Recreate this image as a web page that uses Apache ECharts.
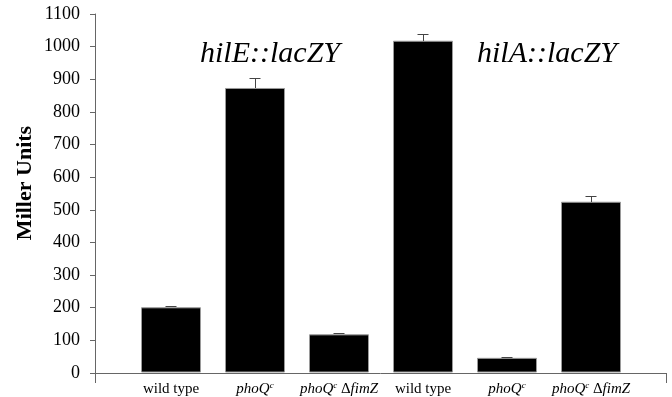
<!DOCTYPE html>
<html>
<head>
<meta charset="utf-8">
<script src="https://cdn.jsdelivr.net/npm/echarts@6/dist/echarts.min.js"></script>
<style>html,body{margin:0;padding:0;background:#fff}#c{width:672px;height:397px}</style>
</head>
<body>
<div id="c"></div>
<script>
var categories = ['wild type', 'phoQc', 'phoQc fimZ', 'wild type', 'phoQc', 'phoQc fimZ'];
var categoryLabels = [
  '{n|wild type}',
  '{i|phoQ}{s|c}',
  '{i|phoQ}{s|c}{n| Δ}{i|fimZ}',
  '{n|wild type}',
  '{i|phoQ}{s|c}',
  '{i|phoQ}{s|c}{n| Δ}{i|fimZ}'
];
var values = [200, 873, 117, 1018, 45, 524];
var errors = [5, 30, 5, 20, 4, 18];
var yTicks = [0, 100, 200, 300, 400, 500, 600, 700, 800, 900, 1000, 1100];
var groupLabels = ['hilE::lacZY', 'hilA::lacZY'];

var serif = '"Liberation Serif", "DejaVu Serif", serif';
var chart = echarts.init(document.getElementById('c'));
var errData = values.map(function (v, i) { return [i, v, v + errors[i]]; });

chart.setOption({
  animation: false,
  backgroundColor: '#fff',
  grid: [
    { left: 95, right: 6, top: 14, bottom: 24 },
    { left: 129, width: 504, top: 14, bottom: 24 }
  ],
  xAxis: [
    {
      type: 'value', gridIndex: 0, min: 0, max: 1, interval: 1,
      axisLine: { show: true, lineStyle: { color: '#666', width: 1 } },
      axisTick: { show: true, length: 10, lineStyle: { color: '#666' } },
      axisLabel: { show: false },
      splitLine: { show: false }
    },
    {
      type: 'category', gridIndex: 1, data: categories,
      axisLine: { show: false },
      axisTick: { show: false },
      axisLabel: {
        margin: 9,
        interval: 0,
        formatter: function (v, i) { return categoryLabels[i]; },
        rich: {
          n: { fontFamily: serif, fontSize: 15, color: '#000', lineHeight: 16 },
          i: { fontFamily: serif, fontSize: 15, fontStyle: 'italic', color: '#000', lineHeight: 16 },
          s: { fontFamily: serif, fontSize: 9, fontStyle: 'italic', color: '#000', lineHeight: 16, verticalAlign: 'top', padding: [0, 0, 6, 0] }
        }
      }
    }
  ],
  yAxis: [
    {
      type: 'value', gridIndex: 0, min: yTicks[0], max: yTicks[yTicks.length - 1], interval: 100,
      axisLine: { show: true, lineStyle: { color: '#666', width: 1 } },
      axisTick: { show: true, length: 5, lineStyle: { color: '#666' } },
      axisLabel: { margin: 15, fontFamily: serif, fontSize: 18, color: '#000', formatter: function (v) { return String(v); } },
      splitLine: { show: false }
    },
    {
      type: 'value', gridIndex: 1, min: yTicks[0], max: yTicks[yTicks.length - 1], show: false,
      splitLine: { show: false }
    }
  ],
  graphic: [
    {
      type: 'text', left: 200, top: 39,
      style: { text: groupLabels[0], font: 'italic 30px ' + serif, fill: '#000' }
    },
    {
      type: 'text', left: 477, top: 39,
      style: { text: groupLabels[1], font: 'italic 30px ' + serif, fill: '#000' }
    },
    {
      type: 'text', x: 25, y: 183, rotation: Math.PI / 2,
      style: { text: 'Miller Units', font: 'bold 22px ' + serif, fill: '#000', align: 'center', verticalAlign: 'middle' }
    }
  ],
  series: [
    {
      type: 'bar', xAxisIndex: 1, yAxisIndex: 1, data: values, barWidth: 60,
      itemStyle: { color: '#000', borderColor: '#9a9a9a', borderWidth: 1 },
      z: 2
    },
    {
      type: 'custom', xAxisIndex: 1, yAxisIndex: 1, data: errData, z: 3,
      renderItem: function (params, api) {
        var base = api.coord([api.value(0), api.value(1)]);
        var top = api.coord([api.value(0), api.value(2)]);
        var x = Math.round(base[0]) + 0.5;
        var y0 = Math.round(base[1]);
        var y1 = Math.round(top[1]) + 0.5;
        var st = { stroke: '#444', lineWidth: 1 };
        return {
          type: 'group',
          children: [
            { type: 'line', shape: { x1: x, y1: y0, x2: x, y2: y1 }, style: st },
            { type: 'line', shape: { x1: x - 6, y1: y1, x2: x + 5, y2: y1 }, style: st }
          ]
        };
      }
    }
  ]
});
</script>
</body>
</html>
